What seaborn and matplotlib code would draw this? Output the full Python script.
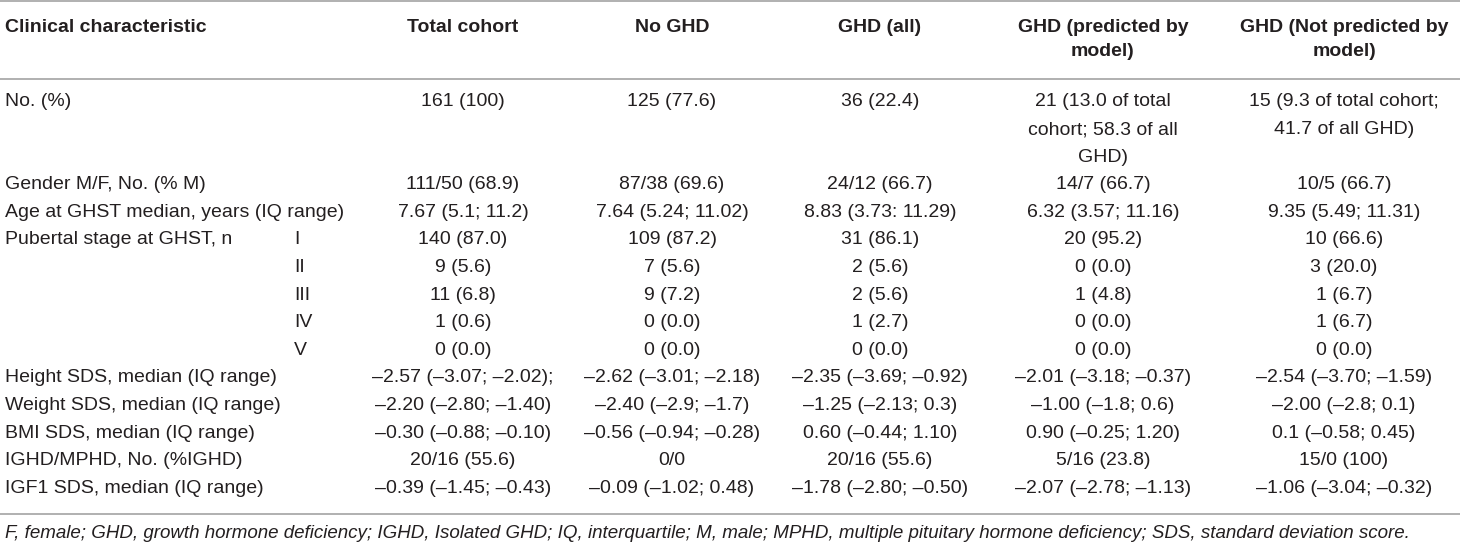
import matplotlib
matplotlib.use("Agg")
import matplotlib.pyplot as plt
import seaborn as sns


sns.set_theme(style="white")
plt.rcParams['font.family'] = ['Liberation Sans', 'DejaVu Sans']


# table content
header_labels = ["Clinical characteristic", "Total cohort", "No GHD", "GHD (all)",
                 "GHD (predicted by\nmodel)", "GHD (Not predicted by\nmodel)"]

characteristics = ["No. (%)", "Gender M/F, No. (% M)", "Age at GHST median, years (IQ range)",
                   "Pubertal stage at GHST, n", "", "", "", "",
                   "Height SDS, median (IQ range)", "Weight SDS, median (IQ range)",
                   "BMI SDS, median (IQ range)", "IGHD/MPHD, No. (%IGHD)",
                   "IGF1 SDS, median (IQ range)"]
stages = ["", "", "", "I", "II", "III", "IV", "V", "", "", "", "", ""]

total_cohort = ["161 (100)", "111/50 (68.9)", "7.67 (5.1; 11.2)", "140 (87.0)", "9 (5.6)",
                "11 (6.8)", "1 (0.6)", "0 (0.0)", "–2.57 (–3.07; –2.02);",
                "–2.20 (–2.80; –1.40)", "–0.30 (–0.88; –0.10)", "20/16 (55.6)",
                "–0.39 (–1.45; –0.43)"]
no_ghd = ["125 (77.6)", "87/38 (69.6)", "7.64 (5.24; 11.02)", "109 (87.2)", "7 (5.6)",
          "9 (7.2)", "0 (0.0)", "0 (0.0)", "–2.62 (–3.01; –2.18)", "–2.40 (–2.9; –1.7)",
          "–0.56 (–0.94; –0.28)", "0/0", "–0.09 (–1.02; 0.48)"]
ghd_all = ["36 (22.4)", "24/12 (66.7)", "8.83 (3.73: 11.29)", "31 (86.1)", "2 (5.6)",
           "2 (5.6)", "1 (2.7)", "0 (0.0)", "–2.35 (–3.69; –0.92)", "–1.25 (–2.13; 0.3)",
           "0.60 (–0.44; 1.10)", "20/16 (55.6)", "–1.78 (–2.80; –0.50)"]
ghd_predicted = ["21 (13.0 of total\ncohort; 58.3 of all\nGHD)", "14/7 (66.7)",
                 "6.32 (3.57; 11.16)", "20 (95.2)", "0 (0.0)", "1 (4.8)", "0 (0.0)",
                 "0 (0.0)", "–2.01 (–3.18; –0.37)", "–1.00 (–1.8; 0.6)",
                 "0.90 (–0.25; 1.20)", "5/16 (23.8)", "–2.07 (–2.78; –1.13)"]
ghd_not_predicted = ["15 (9.3 of total cohort;\n41.7 of all GHD)", "10/5 (66.7)",
                     "9.35 (5.49; 11.31)", "10 (66.6)", "3 (20.0)", "1 (6.7)", "1 (6.7)",
                     "0 (0.0)", "–2.54 (–3.70; –1.59)", "–2.00 (–2.8; 0.1)",
                     "0.1 (–0.58; 0.45)", "15/0 (100)", "–1.06 (–3.04; –0.32)"]

footnote = ("F, female; GHD, growth hormone deficiency; IGHD, Isolated GHD; IQ, interquartile; "
            "M, male; MPHD, multiple pituitary hormone deficiency; SDS, standard deviation score.")

value_columns = [total_cohort, no_ghd, ghd_all, ghd_predicted, ghd_not_predicted]


# layout (pixels)
W, H = 1460, 543
col_centers = [463, 672, 880, 1103, 1344]
label_x = 5
stage_x = 294
first_line_y = 102
line_step = 27.6
fs = 14
text_color = "#231f20"
rule_color = "#a3a3a3"

fig = plt.figure(figsize=(W / 100, H / 100), dpi=100)
ax = fig.add_axes([0, 0, 1, 1])
ax.set_xlim(0, W)
ax.set_ylim(H, 0)
ax.axis("off")

# header
ax.text(label_x, 27, header_labels[0], fontsize=fs, fontweight="bold",
        color=text_color, ha="left", va="center")
for cx, head in zip(col_centers, header_labels[1:]):
    for k, part in enumerate(head.split("\n")):
        ax.text(cx, 27 + 25 * k, part, fontsize=fs, fontweight="bold",
                color=text_color, ha="center", va="center")

# body rows, the first row takes three text lines
line_idx = 0
for r in range(len(characteristics)):
    y = first_line_y + line_step * line_idx
    if characteristics[r]:
        ax.text(label_x, y, characteristics[r], fontsize=fs, color=text_color,
                ha="left", va="center")
    if stages[r]:
        ax.text(stage_x, y, stages[r], fontsize=fs, color=text_color,
                ha="left", va="center")
    n_lines = 1
    for cx, col in zip(col_centers, value_columns):
        parts = col[r].split("\n")
        n_lines = max(n_lines, len(parts))
        for k, part in enumerate(parts):
            ax.text(cx, y + line_step * k, part, fontsize=fs, color=text_color,
                    ha="center", va="center")
    line_idx += n_lines

# rules
for ry in [1, 78.5, 514]:
    ax.axhline(ry, color=rule_color, lw=1.2)

ax.text(label_x, 533, footnote, fontsize=fs - 0.5, fontstyle="italic",
        color=text_color, ha="left", va="center")

fig.savefig("out.png", dpi=100)
